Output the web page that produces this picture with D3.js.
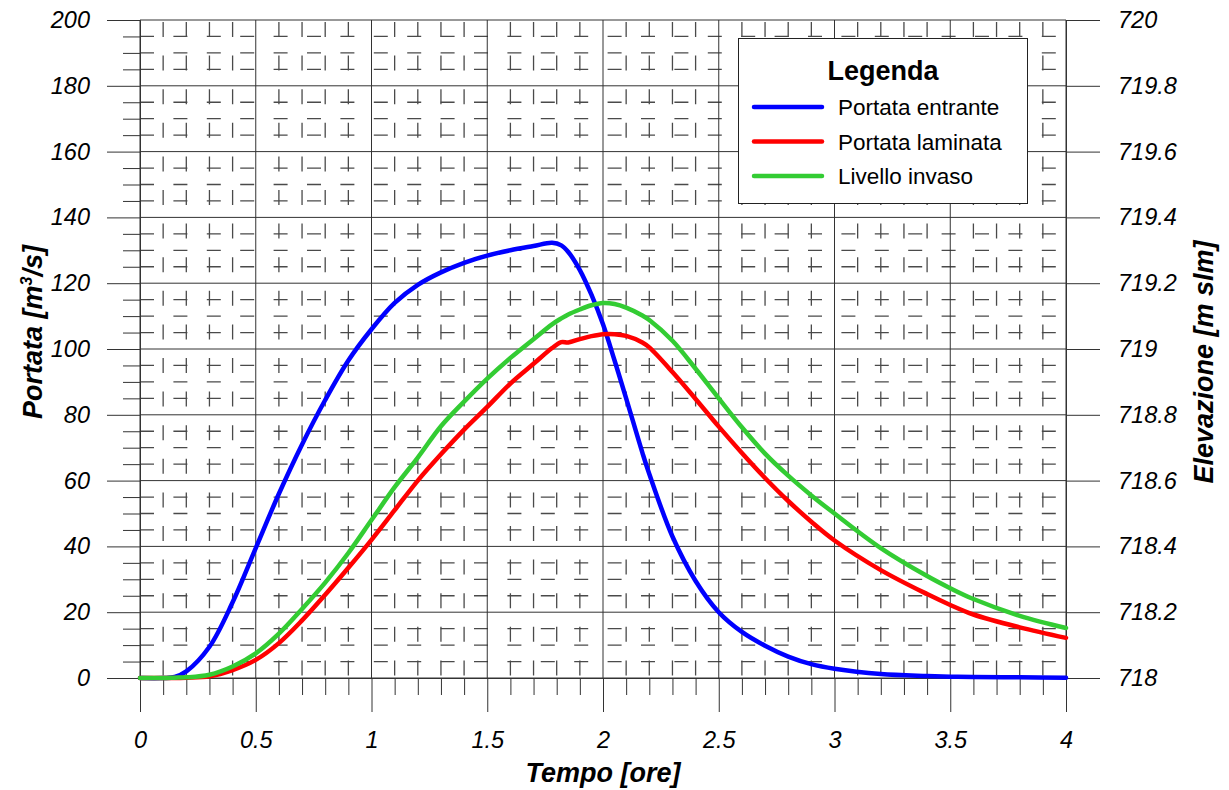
<!DOCTYPE html>
<html>
<head>
<meta charset="utf-8">
<script src="https://cdn.jsdelivr.net/npm/d3@7"></script>
<style>
  body { margin: 0; background: #fff; }
  svg { display: block; font-family: "Liberation Sans", Arial, sans-serif; }
</style>
</head>
<body>
<svg id="chart" width="1229" height="790"></svg>
<script>
// time [h]
const tempo = [0, 0.1, 0.15, 0.2, 0.3, 0.4, 0.5, 0.6, 0.7, 0.8, 0.9, 1.0, 1.1, 1.2, 1.3, 1.4, 1.5, 1.6, 1.7, 1.78, 1.82, 1.85, 1.9, 1.95, 2.0, 2.05, 2.1, 2.17, 2.2, 2.3, 2.4, 2.5, 2.6, 2.7, 2.8, 2.9, 3.0, 3.2, 3.4, 3.5, 3.6, 3.8, 4.0]

// inflow [m3/s]
const portataEntrante = [0, 0, 0.3, 2, 9.5, 23, 39.5, 56, 71, 84.5, 96.5, 106, 114, 119.5, 123.3, 126.2, 128.4, 130, 131.3, 132.3, 131.5, 129.5, 124, 116.5, 107.5, 96.5, 85, 68.5, 62, 43, 29.5, 20, 14, 9.8, 6.5, 4.2, 2.8, 1.2, 0.6, 0.4, 0.3, 0.2, 0.1]

// outflow [m3/s]
const portataLaminata = [0, 0, 0, 0.1, 0.5, 2.4, 5.5, 10.6, 17.5, 25.3, 33.5, 42, 51, 60, 68, 75.5, 82.4, 89.5, 95.5, 100.3, 102.1, 102, 103, 103.9, 104.5, 104.5, 104, 102, 100.5, 93, 84.8, 76.4, 68.4, 60.8, 53.8, 47.5, 41.8, 32.8, 25.5, 22.2, 19.3, 15.4, 12.2]

// reservoir level [m slm]
const livelloInvaso = [718, 718, 718.001, 718.002, 718.01, 718.035, 718.075, 718.135, 718.21, 718.29, 718.38, 718.48, 718.58, 718.67, 718.765, 718.84, 718.91, 718.973, 719.03, 719.075, 719.093, 719.105, 719.12, 719.133, 719.14, 719.137, 719.126, 719.102, 719.088, 719.025, 718.94, 718.85, 718.762, 718.682, 718.615, 718.555, 718.5, 718.395, 718.31, 718.273, 718.24, 718.189, 718.152]

const xTicks = [0, 0.5, 1, 1.5, 2, 2.5, 3, 3.5, 4]
const yTicks = [0, 20, 40, 60, 80, 100, 120, 140, 160, 180, 200]
const y2Ticks = [718, 718.2, 718.4, 718.6, 718.8, 719, 719.2, 719.4, 719.6, 719.8, 720]

const legendLabels = ['Portata entrante', 'Portata laminata', 'Livello invaso']
const seriesColors = ['#0000ff', '#ff0000', '#33cc33']

const svg = d3.select('#chart')
const plotLeft = 140, plotRight = 1066, plotTop = 20, plotBottom = 678

const x = d3.scaleLinear().domain([0, 4]).range([plotLeft, plotRight])
const y = d3.scaleLinear().domain([0, 200]).range([plotBottom, plotTop])
const y2 = d3.scaleLinear().domain([718, 720]).range([plotBottom, plotTop])

const gridColor = '#333'
const minorColor = '#4a4a4a'

// minor dashed grid (every 0.1 h and every 5 m3/s)
const minorX = d3.range(0, 41).map(i => i / 10).filter(v => Math.abs(v * 2 - Math.round(v * 2)) > 1e-6)
const minorY = d3.range(0, 41).map(i => i * 5).filter(v => v % 20 !== 0)

const grid = svg.append('g').attr('class', 'grid')

grid.selectAll('.minor-v')
  .data(minorX)
  .enter()
  .append('line')
  .attr('x1', d => x(d))
  .attr('x2', d => x(d))
  .attr('y1', plotTop + 2)
  .attr('y2', plotBottom)
  .attr('stroke', minorColor)
  .attr('stroke-width', 1.3)
  .attr('stroke-dasharray', '15,18.6')

grid.selectAll('.minor-h')
  .data(minorY)
  .enter()
  .append('line')
  .attr('x1', plotLeft)
  .attr('x2', plotRight)
  .attr('y1', d => y(d))
  .attr('y2', d => y(d))
  .attr('stroke', minorColor)
  .attr('stroke-width', 1.3)
  .attr('stroke-dasharray', '14,19.4')

// major grid
grid.selectAll('.major-v')
  .data(xTicks)
  .enter()
  .append('line')
  .attr('x1', d => x(d))
  .attr('x2', d => x(d))
  .attr('y1', plotTop)
  .attr('y2', plotBottom)
  .attr('stroke', gridColor)
  .attr('stroke-width', 1)

grid.selectAll('.major-h')
  .data(yTicks)
  .enter()
  .append('line')
  .attr('x1', plotLeft)
  .attr('x2', plotRight)
  .attr('y1', d => y(d))
  .attr('y2', d => y(d))
  .attr('stroke', gridColor)
  .attr('stroke-width', 1)

// axes
function styleAxis(g) {
  g.select('.domain').attr('stroke', gridColor).attr('stroke-width', 1)
  g.selectAll('.tick line').attr('stroke', gridColor).attr('stroke-width', 1)
  g.selectAll('.tick text')
    .attr('fill', '#000')
    .style('font-size', '23.5px')
    .style('font-style', 'italic')
}

// minor ticks (no labels)
svg.append('g')
  .attr('transform', `translate(${plotLeft},0)`)
  .call(d3.axisLeft(y).tickValues(minorY).tickSize(17).tickSizeOuter(0).tickFormat(''))
  .call(styleAxis)

svg.append('g')
  .attr('transform', `translate(0,${plotBottom})`)
  .call(d3.axisBottom(x).tickValues(minorX).tickSize(17).tickSizeOuter(0).tickFormat(''))
  .call(styleAxis)

svg.append('g')
  .attr('transform', `translate(${plotLeft},0)`)
  .call(d3.axisLeft(y).tickValues(yTicks).tickSize(33).tickSizeOuter(0).tickPadding(17))
  .call(styleAxis)

svg.append('g')
  .attr('transform', `translate(0,${plotBottom})`)
  .call(d3.axisBottom(x).tickValues(xTicks).tickSize(34).tickSizeOuter(0).tickPadding(19).tickFormat(d => String(d)))
  .call(styleAxis)

svg.append('g')
  .attr('transform', `translate(${plotRight},0)`)
  .call(d3.axisRight(y2).tickValues(y2Ticks).tickSize(34).tickSizeOuter(0).tickPadding(18).tickFormat(d3.format('.1~f')))
  .call(styleAxis)

// axis titles
const titleSize = '27px'

svg.append('text')
  .attr('x', x(2))
  .attr('y', 782)
  .attr('text-anchor', 'middle')
  .style('font-size', titleSize)
  .style('font-weight', 'bold')
  .style('font-style', 'italic')
  .text('Tempo [ore]')

const yTitle = svg.append('text')
  .attr('transform', 'translate(42,332) rotate(-90)')
  .attr('text-anchor', 'middle')
  .style('font-size', titleSize)
  .style('font-weight', 'bold')
  .style('font-style', 'italic')
yTitle.append('tspan').text('Portata [m')
yTitle.append('tspan').attr('dy', -10).style('font-size', '16px').text('3')
yTitle.append('tspan').attr('dy', 10).text('/s]')

svg.append('text')
  .attr('transform', 'translate(1213,362) rotate(-90)')
  .attr('text-anchor', 'middle')
  .style('font-size', titleSize)
  .style('font-weight', 'bold')
  .style('font-style', 'italic')
  .text('Elevazione [m slm]')

// series
const series = [
  { values: portataEntrante, scale: y },
  { values: portataLaminata, scale: y },
  { values: livelloInvaso, scale: y2 }
]

series.forEach((s, i) => {
  const line = d3.line()
    .x((d, j) => x(tempo[j]))
    .y(d => s.scale(d))
    .curve(d3.curveCatmullRom.alpha(0.5))
  svg.append('path')
    .datum(s.values)
    .attr('d', line)
    .attr('fill', 'none')
    .attr('stroke', seriesColors[i])
    .attr('stroke-width', 4.5)
    .attr('stroke-linejoin', 'round')
    .attr('stroke-linecap', 'round')
})

// legend
const legend = svg.append('g').attr('class', 'legend')
legend.append('rect')
  .attr('x', 738.5)
  .attr('y', 38.5)
  .attr('width', 289)
  .attr('height', 165)
  .attr('fill', '#fff')
  .attr('stroke', '#222')
  .attr('stroke-width', 1)

legend.append('text')
  .attr('x', 883)
  .attr('y', 80)
  .attr('text-anchor', 'middle')
  .style('font-size', titleSize)
  .style('font-weight', 'bold')
  .text('Legenda')

const items = legend.selectAll('.item')
  .data(legendLabels)
  .enter()
  .append('g')
  .attr('transform', (d, i) => `translate(0,${107 + i * 34.5})`)

items.append('line')
  .attr('x1', 754)
  .attr('x2', 822)
  .attr('stroke', (d, i) => seriesColors[i])
  .attr('stroke-width', 4.5)
  .attr('stroke-linecap', 'round')

items.append('text')
  .attr('x', 838)
  .attr('dy', '0.36em')
  .style('font-size', '22.5px')
  .text(d => d)
</script>
</body>
</html>
